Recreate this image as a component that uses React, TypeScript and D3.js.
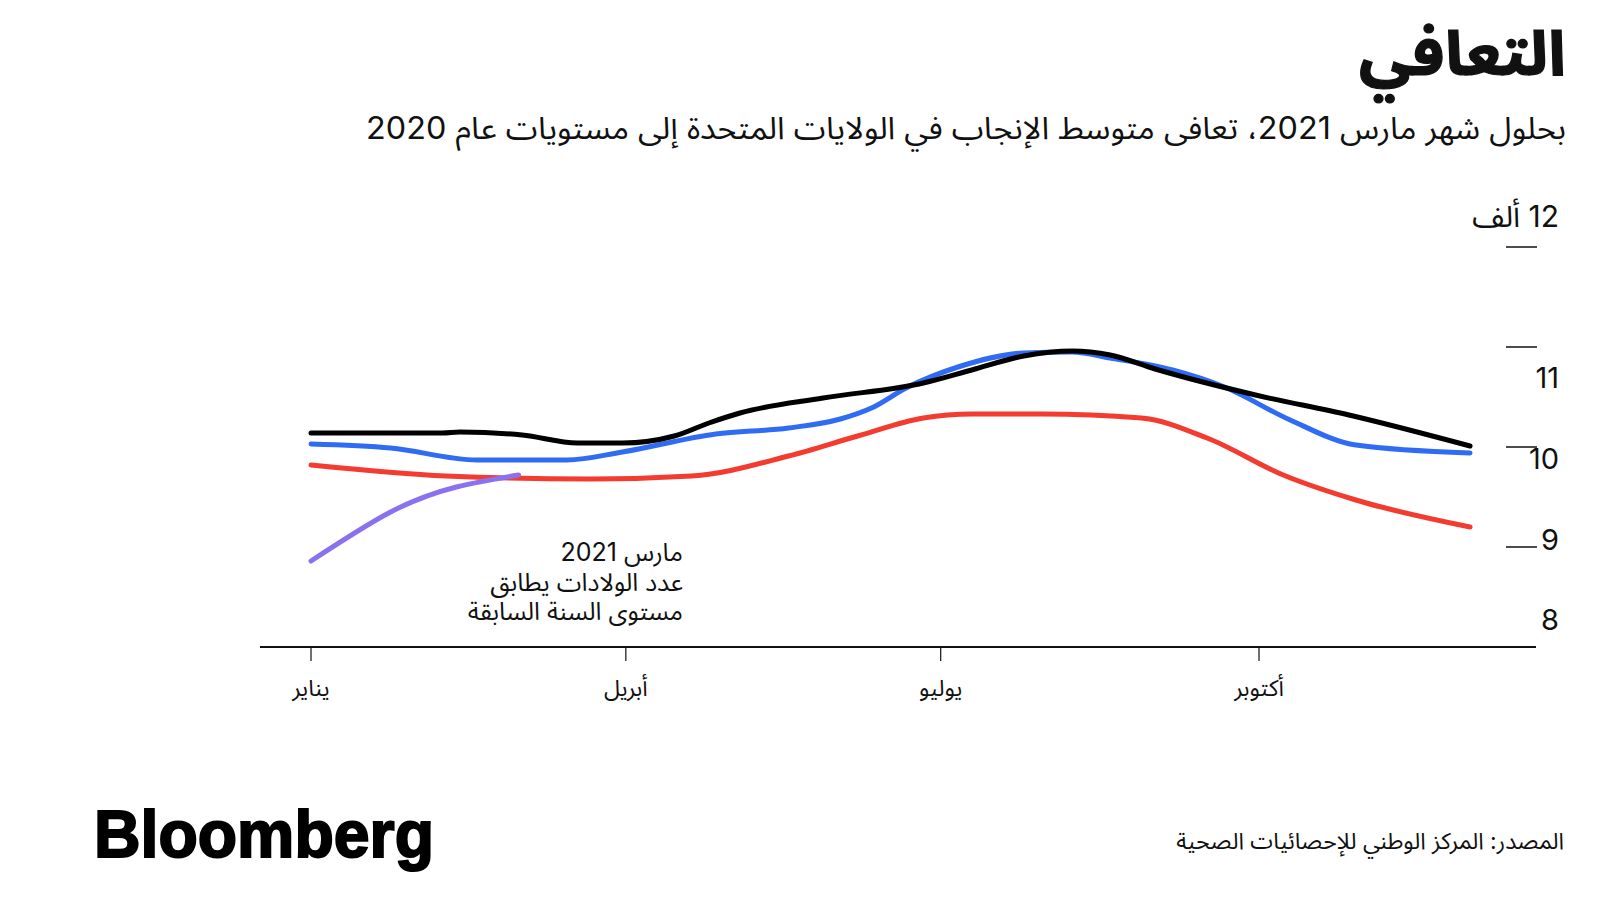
import React from "react";
import * as d3 from "d3";

// ---- Data (average daily births, thousands) ----
const series2019: [string, number][] = [
  ["2020-01-01", 10.14], ["2020-02-08", 10.14], ["2020-02-13", 10.15], ["2020-03-02", 10.12],
  ["2020-03-18", 10.04], ["2020-03-31", 10.04], ["2020-04-15", 10.11], ["2020-04-25", 10.24],
  ["2020-05-04", 10.34], ["2020-05-28", 10.49], ["2020-06-26", 10.64], ["2020-07-10", 10.77],
  ["2020-07-25", 10.91], ["2020-08-08", 10.96], ["2020-08-19", 10.92], ["2020-09-01", 10.78],
  ["2020-09-30", 10.52], ["2020-10-27", 10.32], ["2020-12-01", 10.01],
];
const series2018: [string, number][] = [
  ["2020-01-01", 10.03], ["2020-01-24", 9.99], ["2020-02-18", 9.87], ["2020-03-15", 9.87],
  ["2020-03-31", 9.95], ["2020-04-27", 10.13], ["2020-05-18", 10.19], ["2020-06-02", 10.28],
  ["2020-06-11", 10.39], ["2020-06-21", 10.59], ["2020-07-06", 10.8], ["2020-07-25", 10.94],
  ["2020-08-08", 10.95], ["2020-08-19", 10.89], ["2020-09-06", 10.77], ["2020-09-21", 10.6],
  ["2020-10-10", 10.27], ["2020-10-29", 10.02], ["2020-12-01", 9.94],
];
const series2020: [string, number][] = [
  ["2020-01-01", 9.82], ["2020-02-09", 9.71], ["2020-03-22", 9.68], ["2020-04-20", 9.71],
  ["2020-05-18", 9.91], ["2020-06-07", 10.11], ["2020-06-26", 10.29], ["2020-07-10", 10.33],
  ["2020-07-30", 10.33], ["2020-08-28", 10.29], ["2020-09-16", 10.09], ["2020-10-08", 9.72],
  ["2020-10-29", 9.47], ["2020-12-01", 9.2],
];
const series2021: [string, number][] = [
  ["2020-01-01", 8.86], ["2020-01-24", 9.35], ["2020-02-12", 9.6], ["2020-03-01", 9.72],
];

const monthTicks = ["2020-01-01", "2020-04-01", "2020-07-01", "2020-10-01"];
const monthLabels = ["يناير", "أبريل", "يوليو", "أكتوبر"];
const yTickMarks = [9, 10, 11, 12];
const yTickLabels = [8, 9, 10, 11];

const TITLE = "التعافي";
const SUBTITLE = "بحلول شهر مارس 2021، تعافى متوسط الإنجاب في الولايات المتحدة إلى مستويات عام 2020";
const UNIT = "12 ألف";
const NOTE = ["مارس 2021", "عدد الولادات يطابق", "مستوى السنة السابقة"];
const SOURCE = "المصدر: المركز الوطني للإحصائيات الصحية";

const COLORS = { s2019: "#000000", s2018: "#2f6cf3", s2020: "#f43b30", s2021: "#8a72ee" };
const FONT = "'Inter', 'Noto Sans Arabic', 'DejaVu Sans', sans-serif";

export default function App() {
  const parse = d3.utcParse("%Y-%m-%d");
  const x = d3
    .scaleUtc()
    .domain([parse("2020-01-01")!, parse("2020-10-01")!])
    .range([311, 1259]);
  const y = d3.scaleLinear().domain([8, 12]).range([647, 247]);
  const labelY = d3.scaleLinear().domain([8, 11]).range([620, 378]);

  const line = d3
    .line<[string, number]>()
    .x((d) => x(parse(d[0])!))
    .y((d) => y(d[1]))
    .curve(d3.curveMonotoneX);
  const smooth = d3
    .line<[string, number]>()
    .x((d) => x(parse(d[0])!))
    .y((d) => y(d[1]))
    .curve(d3.curveNatural);

  const lines: { data: [string, number][]; color: string; gen: typeof line }[] = [
    { data: series2020, color: COLORS.s2020, gen: line },
    { data: series2018, color: COLORS.s2018, gen: line },
    { data: series2019, color: COLORS.s2019, gen: line },
    { data: series2021, color: COLORS.s2021, gen: smooth },
  ];

  return (
    <svg
      width={1600}
      height={900}
      style={{ position: "absolute", left: 0, top: 0, background: "#fff" }}
      fontFamily={FONT}
    >
      <rect width={1600} height={900} fill="#fff" />
      {/* Title */}
      <text x={1566} y={75} direction="rtl" textAnchor="start" fontSize={62} fontWeight={700} fill="#111"
        stroke="#111" strokeWidth={1.2} textLength={207} lengthAdjust="spacingAndGlyphs">
        {TITLE}
      </text>
      <text x={1566} y={139} direction="rtl" textAnchor="start" fontSize={31} fill="#111"
        textLength={1200} lengthAdjust="spacingAndGlyphs">
        {SUBTITLE}
      </text>

      {/* Y axis ticks */}
      {yTickMarks.map((v) => (
        <line key={"yt" + v} x1={1506} x2={1537} y1={y(v)} y2={y(v)} stroke="#111" strokeWidth={1.5} />
      ))}
      {yTickLabels.map((v) => (
        <text key={"yl" + v} x={1559} y={labelY(v)} dy="0.36em" textAnchor="end" fontSize={29} fill="#111">
          {v}
        </text>
      ))}
      <text x={1559} y={216} dy="0.36em" direction="rtl" textAnchor="start" fontSize={30} fill="#111">
        {UNIT}
      </text>

      {/* Baseline and x ticks */}
      <line x1={260} x2={1536} y1={y(8)} y2={y(8)} stroke="#111" strokeWidth={2} />
      {monthTicks.map((m, i) => (
        <g key={m}>
          <line x1={x(parse(m)!)} x2={x(parse(m)!)} y1={y(8)} y2={y(8) + 14} stroke="#111" strokeWidth={1.2} />
          <text x={x(parse(m)!)} y={688} dy="0.36em" textAnchor="middle" fontSize={23} fill="#111">
            {monthLabels[i]}
          </text>
        </g>
      ))}

      {/* Lines */}
      {lines.map((l, i) => (
        <path
          key={i}
          d={l.gen(l.data) || ""}
          fill="none"
          stroke={l.color}
          strokeWidth={5}
          strokeLinecap="round"
          strokeLinejoin="round"
        />
      ))}

      {/* Annotation */}
      {NOTE.map((t, i) => (
        <text key={i} x={683} y={552 + i * 29.5} dy="0.36em" direction="rtl" textAnchor="start" fontSize={25} fill="#111">
          {t}
        </text>
      ))}

      {/* Footer */}
      <text x={94} y={857} fontFamily="'Liberation Sans', Arial, sans-serif" fontWeight={700} fontSize={66}
        stroke="#000" strokeWidth={2} textLength={340} lengthAdjust="spacingAndGlyphs" fill="#000">
        Bloomberg
      </text>
      <text x={1564} y={841} dy="0.36em" direction="rtl" textAnchor="start" fontSize={23} fill="#111">
        {SOURCE}
      </text>
    </svg>
  );
}
